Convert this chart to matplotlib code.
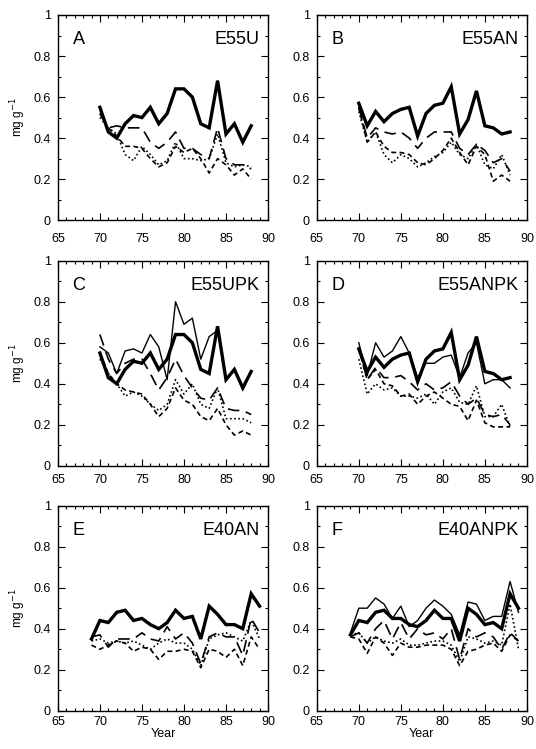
import numpy as np
import matplotlib
matplotlib.use("Agg")
import matplotlib.pyplot as plt
from matplotlib.ticker import MultipleLocator

plt.rcParams['font.family'] = ['Liberation Sans', 'DejaVu Sans']

years_a = np.arange(70, 89)
years_e = np.arange(69, 90)

# panel A / C share the thick line, B / D likewise
thick_u = [0.55, 0.43, 0.40, 0.47, 0.51, 0.50, 0.55, 0.47, 0.52, 0.64, 0.64, 0.60, 0.47, 0.45, 0.68, 0.42, 0.47, 0.38, 0.46]
thick_an = [0.57, 0.46, 0.53, 0.48, 0.52, 0.54, 0.55, 0.41, 0.52, 0.56, 0.57, 0.65, 0.42, 0.49, 0.63, 0.46, 0.45, 0.42, 0.43]
thick_e40 = [0.35, 0.44, 0.43, 0.48, 0.49, 0.44, 0.45, 0.42, 0.40, 0.43, 0.49, 0.45, 0.46, 0.35, 0.51, 0.47, 0.42, 0.42, 0.40, 0.57, 0.51]

a_long = [0.52, 0.45, 0.46, 0.45, 0.45, 0.45, 0.38, 0.35, 0.38, 0.43, 0.35, 0.35, 0.32, 0.30, 0.45, 0.30, 0.27, 0.27, 0.25]
a_short = [0.52, 0.45, 0.41, 0.36, 0.36, 0.35, 0.30, 0.26, 0.28, 0.36, 0.33, 0.35, 0.30, 0.23, 0.30, 0.27, 0.22, 0.25, 0.20]
a_dot = [0.50, 0.45, 0.42, 0.32, 0.29, 0.36, 0.32, 0.27, 0.29, 0.38, 0.30, 0.30, 0.29, 0.30, 0.42, 0.28, 0.26, 0.27, 0.26]

b_long = [0.55, 0.40, 0.45, 0.43, 0.42, 0.43, 0.40, 0.35, 0.40, 0.43, 0.43, 0.43, 0.35, 0.32, 0.37, 0.34, 0.28, 0.30, 0.24]
b_short = [0.55, 0.38, 0.43, 0.36, 0.33, 0.33, 0.32, 0.28, 0.27, 0.30, 0.34, 0.40, 0.33, 0.27, 0.36, 0.32, 0.19, 0.22, 0.19]
b_dot = [0.53, 0.38, 0.43, 0.32, 0.28, 0.32, 0.30, 0.26, 0.28, 0.31, 0.33, 0.38, 0.32, 0.30, 0.37, 0.27, 0.25, 0.32, 0.22]

c_thin = [0.58, 0.55, 0.45, 0.56, 0.57, 0.55, 0.64, 0.58, 0.42, 0.80, 0.69, 0.72, 0.52, 0.63, 0.66, 0.42, 0.47, 0.37, 0.46]
c_long = [0.64, 0.52, 0.45, 0.50, 0.52, 0.52, 0.45, 0.37, 0.43, 0.52, 0.44, 0.38, 0.33, 0.32, 0.38, 0.28, 0.27, 0.27, 0.25]
c_short = [0.55, 0.45, 0.40, 0.37, 0.36, 0.35, 0.30, 0.24, 0.28, 0.38, 0.32, 0.30, 0.24, 0.22, 0.28, 0.20, 0.15, 0.17, 0.15]
c_dot = [0.52, 0.45, 0.40, 0.34, 0.36, 0.34, 0.30, 0.27, 0.30, 0.42, 0.35, 0.40, 0.30, 0.28, 0.38, 0.23, 0.23, 0.23, 0.21]

d_thin = [0.60, 0.44, 0.60, 0.53, 0.56, 0.63, 0.55, 0.43, 0.50, 0.50, 0.53, 0.54, 0.43, 0.55, 0.60, 0.40, 0.42, 0.42, 0.38]
d_long = [0.58, 0.42, 0.48, 0.43, 0.43, 0.44, 0.41, 0.37, 0.40, 0.37, 0.38, 0.41, 0.34, 0.30, 0.33, 0.25, 0.24, 0.25, 0.20]
d_short = [0.57, 0.42, 0.47, 0.40, 0.39, 0.34, 0.35, 0.30, 0.34, 0.36, 0.33, 0.30, 0.29, 0.22, 0.32, 0.21, 0.19, 0.19, 0.19]
d_dot = [0.52, 0.35, 0.40, 0.37, 0.38, 0.34, 0.34, 0.33, 0.35, 0.30, 0.36, 0.38, 0.31, 0.30, 0.39, 0.24, 0.24, 0.30, 0.19]

e_long = [0.36, 0.37, 0.31, 0.35, 0.35, 0.35, 0.38, 0.35, 0.34, 0.41, 0.35, 0.38, 0.33, 0.23, 0.36, 0.38, 0.36, 0.36, 0.27, 0.45, 0.38]
e_short = [0.32, 0.30, 0.32, 0.34, 0.33, 0.29, 0.31, 0.30, 0.25, 0.29, 0.29, 0.30, 0.29, 0.21, 0.30, 0.29, 0.26, 0.30, 0.22, 0.36, 0.30]
e_dot = [0.34, 0.35, 0.33, 0.34, 0.33, 0.34, 0.32, 0.30, 0.33, 0.35, 0.33, 0.33, 0.30, 0.22, 0.35, 0.37, 0.38, 0.36, 0.34, 0.44, 0.35]

f_thick = [0.37, 0.44, 0.43, 0.48, 0.49, 0.45, 0.45, 0.42, 0.41, 0.44, 0.49, 0.45, 0.45, 0.34, 0.50, 0.47, 0.42, 0.43, 0.40, 0.57, 0.50]
f_thin = [0.38, 0.50, 0.50, 0.55, 0.52, 0.45, 0.51, 0.41, 0.44, 0.50, 0.54, 0.51, 0.47, 0.37, 0.53, 0.52, 0.44, 0.46, 0.46, 0.63, 0.48]
f_long = [0.36, 0.38, 0.33, 0.40, 0.44, 0.35, 0.43, 0.35, 0.40, 0.37, 0.38, 0.35, 0.40, 0.25, 0.40, 0.36, 0.38, 0.36, 0.30, 0.38, 0.34]
f_short = [0.36, 0.35, 0.28, 0.36, 0.33, 0.27, 0.33, 0.31, 0.31, 0.32, 0.32, 0.32, 0.30, 0.22, 0.29, 0.30, 0.32, 0.33, 0.29, 0.37, 0.34]
f_dot = [0.37, 0.38, 0.33, 0.36, 0.34, 0.33, 0.35, 0.32, 0.32, 0.33, 0.34, 0.34, 0.32, 0.24, 0.36, 0.35, 0.33, 0.34, 0.32, 0.52, 0.30]

panels = [
    ('A', 'E55U', years_a, thick_u, None, a_long, a_short, a_dot),
    ('B', 'E55AN', years_a, thick_an, None, b_long, b_short, b_dot),
    ('C', 'E55UPK', years_a, thick_u, c_thin, c_long, c_short, c_dot),
    ('D', 'E55ANPK', years_a, thick_an, d_thin, d_long, d_short, d_dot),
    ('E', 'E40AN', years_e, thick_e40, None, e_long, e_short, e_dot),
    ('F', 'E40ANPK', years_e, f_thick, f_thin, f_long, f_short, f_dot),
]

fig = plt.figure(figsize=(5.36, 7.49), dpi=100)
lefts = [0.108, 0.591]
bottoms = [0.706, 0.378, 0.051]
w, h = 0.392, 0.274
xpads = [9, 6, 4]

for i, (lab, name, yrs, thick, thin, lng, sht, dot) in enumerate(panels):
    row, col = i // 2, i % 2
    ax = fig.add_axes([lefts[col], bottoms[row], w, h])
    ax.plot(yrs, thick, color='black', lw=2.4, solid_joinstyle='miter')
    if thin is not None:
        ax.plot(yrs, thin, color='black', lw=1.0)
    ax.plot(yrs, lng, color='black', lw=1.2, dashes=(7, 4))
    ax.plot(yrs, sht, color='black', lw=1.2, dashes=(3, 2))
    ax.plot(yrs, dot, color='black', lw=1.2, dashes=(1, 1.5))

    ax.set_xlim(65, 90)
    ax.set_ylim(0, 1)
    ax.xaxis.set_major_locator(MultipleLocator(5))
    ax.xaxis.set_minor_locator(MultipleLocator(1))
    ax.yaxis.set_minor_locator(MultipleLocator(0.1))
    ax.set_yticks([0, 0.2, 0.4, 0.6, 0.8, 1.0])
    ax.set_yticklabels(['0', '0.2', '0.4', '0.6', '0.8', '1'])
    ax.tick_params(which='both', direction='in', top=True, right=True,
                   labelsize=9, width=0.8)
    ax.tick_params(axis='y', pad=5)
    ax.tick_params(axis='x', pad=xpads[row])
    ax.tick_params(which='major', length=5)
    ax.tick_params(which='minor', length=2.5)
    for s in ax.spines.values():
        s.set_linewidth(1.0)

    ax.text(0.07, 0.88, lab, transform=ax.transAxes, fontsize=13, va='center', ha='left')
    ax.text(0.96, 0.88, name, transform=ax.transAxes, fontsize=13, va='center', ha='right')

    if col == 0:
        ax.set_ylabel('mg g$^{-1}$', fontsize=8.5, labelpad=4)
    if row == 2:
        ax.set_xlabel('Year', fontsize=9, labelpad=0)

fig.savefig('out.png', dpi=100)
